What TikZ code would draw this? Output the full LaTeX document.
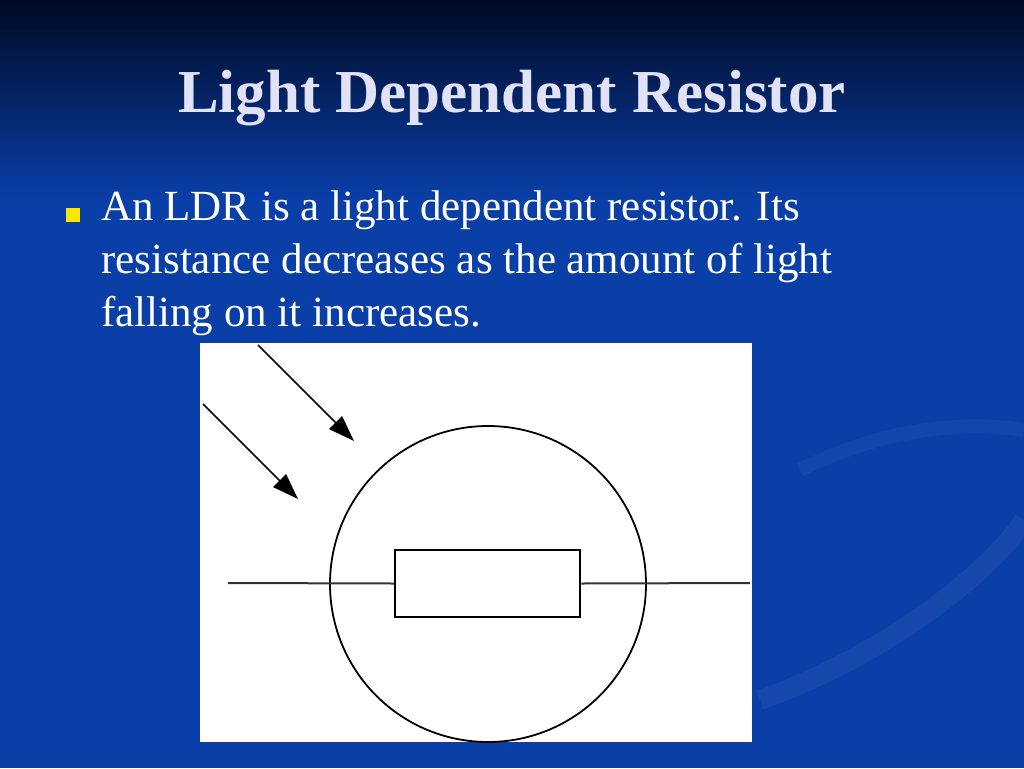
\documentclass[tikz,border=0pt]{standalone}
\usepackage{fontspec}
\setmainfont{Liberation Serif}
\usetikzlibrary{arrows.meta}
\definecolor{titlec}{HTML}{E2E2F6}
\definecolor{bgtop}{HTML}{000A24}
\definecolor{bgbot}{HTML}{0A3FA8}
\begin{document}
\begin{tikzpicture}[x=1pt,y=-1pt,
  wire/.style={line width=2pt,black!80},
  ray/.style={line width=1.5pt,black,-{Triangle[length=26pt,width=18pt]}}]
\useasboundingbox (0,0) rectangle (1024,768);
\fill[bgbot] (0,0) rectangle (1024,768);
\shade[top color=bgtop,bottom color=bgbot] (0,0) rectangle (1024,200);
\draw[bgbot!80!white,line width=20pt,opacity=0.25] (760,700) .. controls (900,650) and (1000,560) .. (1024,520);
\draw[bgbot!80!white,line width=14pt,opacity=0.2] (800,470) .. controls (880,430) and (960,420) .. (1024,430);
\node[text=titlec,font=\bfseries\fontsize{61}{70}\selectfont] (title) at (512,98) {Light Dependent Resistor};
\fill[yellow!90!orange] (66,208) rectangle (80,222) coordinate (bul);
\node[text=white,anchor=north west,align=left,inner sep=0,font=\fontsize{43}{53}\selectfont] (body) at (101,190)
 {An LDR is a light dependent resistor. Its\\resistance decreases as the amount of light\\falling on it increases.};
\fill[white] (200,343) rectangle (752,742);
\node[draw,circle,line width=1.8pt,minimum size=316pt,inner sep=0] (c) at (488,584) {};
\node[draw,line width=2.5pt,minimum width=185pt,minimum height=67pt,inner sep=0] (r) at (487.5,583.5) {};
\coordinate (wl) at (228,583); \coordinate (wr) at (750,583);
\draw[wire] (wl) -- (r.west);
\draw[wire] (r.east) -- (wr);
\coordinate (a1) at (258,345); \coordinate (b1) at (354,441);
\coordinate (a2) at (203,404); \coordinate (b2) at (298,499);
\draw[ray] (a1) -- (b1);
\draw[ray] (a2) -- (b2);
\end{tikzpicture}
\end{document}
